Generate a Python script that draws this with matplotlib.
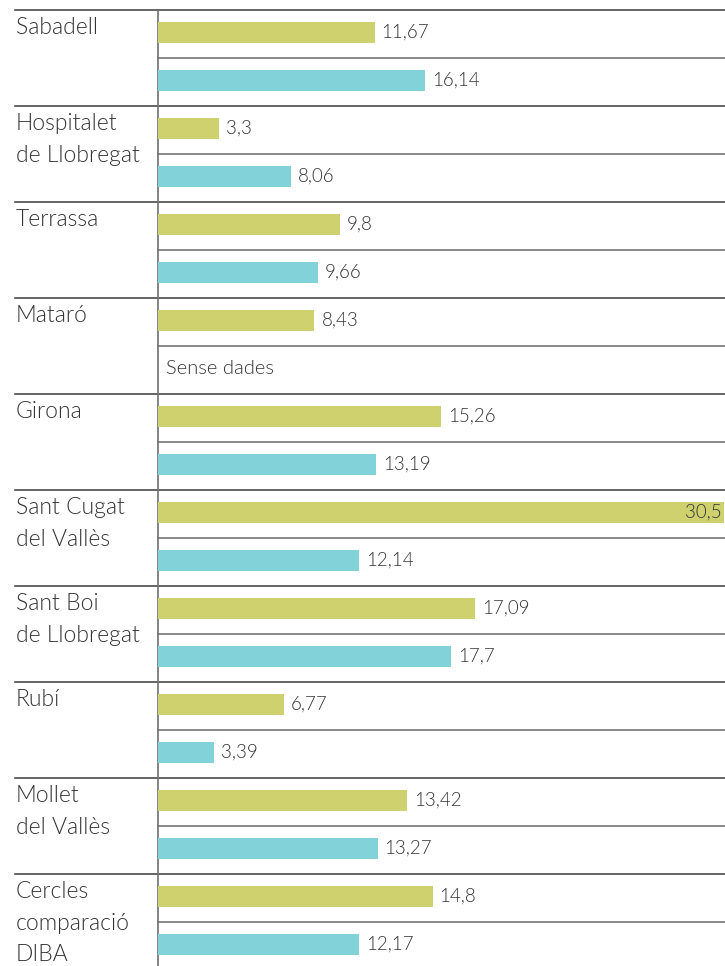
import matplotlib
matplotlib.use("Agg")
import matplotlib.pyplot as plt


cities = ["Sabadell", "Hospitalet\nde Llobregat", "Terrassa", "Mataró", "Girona",
          "Sant Cugat\ndel Vallès", "Sant Boi\nde Llobregat", "Rubí",
          "Mollet\ndel Vallès", "Cercles\ncomparació\nDIBA"]
green_vals = [11.67, 3.3, 9.8, 8.43, 15.26, 30.5, 17.09, 6.77, 13.42, 14.8]
blue_vals = [16.14, 8.06, 9.66, None, 13.19, 12.14, 17.7, 3.39, 13.27, 12.17]
no_data = "Sense dades"

GREEN = "#cfd16f"
BLUE = "#82d2da"
TXT = "#333333"
FONT = "Lato"
WEIGHT = 300


def fmt(v):
    return ("%g" % v).replace(".", ",")


def main():
    W, H = 725, 966
    fig = plt.figure(figsize=(W / 100, H / 100), dpi=100)

    # background axes in pixel units: separators and city names
    bg = fig.add_axes([0, 0, 1, 1])
    bg.set_xlim(0, W)
    bg.set_ylim(H, 0)
    bg.axis("off")

    x0 = 158
    top = 10
    row = 96
    for i, name in enumerate(cities):
        y = top + row * i
        bg.plot([15, W], [y, y], color="#3c3c3c", lw=1.1)
        bg.plot([x0, W], [y + row / 2, y + row / 2], color="#6a6a6a", lw=1.1)
        bg.text(16, y + 7, name, ha="left", va="top", fontsize=16.5,
                color=TXT, family=FONT, fontweight=WEIGHT, linespacing=1.62)
    bg.plot([x0, x0], [top, H], color="#6e6e6e", lw=1.2)

    # bar axes, y in the same pixel units
    ax = fig.add_axes([x0 / W, 0, (W - x0) / W, (H - top) / H])
    ax.set_ylim(H, top)
    ax.set_xlim(0, 30.55)
    ax.axis("off")
    ax.patch.set_alpha(0)

    ax2 = ax.twiny()
    ax2.set_ylim(H, top)
    ax2.set_xlim(0, 34.26)
    ax2.axis("off")
    ax2.patch.set_alpha(0)

    yg = [top + row * i + 22.5 for i in range(len(cities))]
    yb = [top + row * i + 70.5 for i in range(len(cities))]

    ax.barh(yg, green_vals, height=21, color=GREEN)
    for y, v in zip(yg, green_vals):
        if v > 28:
            ax.annotate(fmt(v), (v, y), xytext=(-2, 0), textcoords="offset points",
                        ha="right", va="center", fontsize=13.5, color=TXT,
                        family=FONT, fontweight=WEIGHT)
        else:
            ax.annotate(fmt(v), (v, y), xytext=(5, 0), textcoords="offset points",
                        ha="left", va="center", fontsize=13.5, color=TXT,
                        family=FONT, fontweight=WEIGHT)

    for y, v in zip(yb, blue_vals):
        if v is None:
            ax2.annotate(no_data, (0, y), xytext=(6, 0), textcoords="offset points",
                         ha="left", va="center", fontsize=14.5, color=TXT,
                         family=FONT, fontweight=WEIGHT)
            continue
        ax2.barh(y, v, height=21, color=BLUE)
        ax2.annotate(fmt(v), (v, y), xytext=(5, 0), textcoords="offset points",
                     ha="left", va="center", fontsize=13.5, color=TXT,
                     family=FONT, fontweight=WEIGHT)

    fig.savefig("out.png", dpi=100)


main()
